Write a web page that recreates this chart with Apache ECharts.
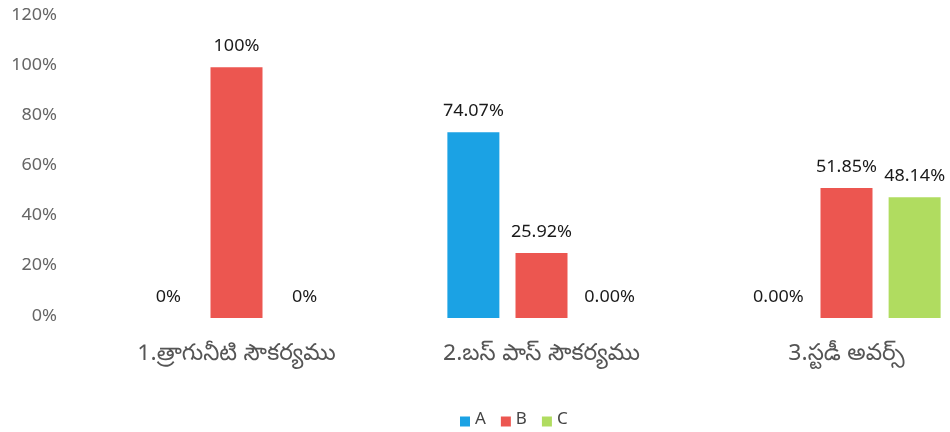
<!DOCTYPE html>
<html>
<head>
<meta charset="utf-8">
<title>chart</title>
<script src="https://cdn.jsdelivr.net/npm/echarts@6/dist/echarts.min.js"></script>
<style>
  html, body { margin: 0; padding: 0; background: #fff; }
  #chart { width: 950px; height: 432px; }
</style>
</head>
<body>
<div id="chart"></div>
<script>
// data
var categories = ['1.త్రాగునీటి సౌకర్యము', '2.బస్ పాస్ సౌకర్యము', '3.స్టడీ అవర్స్'];
var seriesNames = ['A', 'B', 'C'];
var valuesA = [0, 74.07, 0];
var valuesB = [100, 25.92, 51.85];
var valuesC = [0, 0, 48.14];
var labelsA = ['0%', '74.07%', '0.00%'];
var labelsB = ['100%', '25.92%', '51.85%'];
var labelsC = ['0%', '0.00%', '48.14%'];
var yTicks = [0, 20, 40, 60, 80, 100, 120];

var colors = ['#1ba2e4', '#ec5650', '#b0dc60'];
var fontList = '"Noto Sans Telugu", "Open Sans", "Noto Sans", sans-serif';

function makeSeries(i, values, labels) {
  return {
    name: seriesNames[i],
    type: 'bar',
    barWidth: 52,
    barGap: '31%',
    data: values,
    itemStyle: { color: colors[i] },
    label: {
      show: true,
      position: 'top',
      distance: 10,
      fontSize: 18,
      color: '#1a1a1a',
      fontFamily: fontList,
      formatter: function (p) { return labels[p.dataIndex]; }
    }
  };
}

var chart = echarts.init(document.getElementById('chart'));
chart.setOption({
  animation: false,
  textStyle: { fontFamily: fontList },
  grid: { left: 84, top: 17, bottom: 114, width: 915, outerBoundsMode: 'none', containLabel: false },
  legend: {
    data: seriesNames,
    left: 455,
    top: 408,
    icon: 'rect',
    itemWidth: 10,
    itemHeight: 10,
    itemGap: 15,
    textStyle: { fontSize: 17, color: '#444' }
  },
  xAxis: {
    type: 'category',
    data: categories,
    axisLine: { show: false },
    axisTick: { show: false },
    axisLabel: { fontSize: 23, color: '#555', margin: 27 }
  },
  yAxis: {
    type: 'value',
    min: yTicks[0],
    max: yTicks[yTicks.length - 1],
    interval: yTicks[1] - yTicks[0],
    splitLine: { show: false },
    axisLine: { show: false },
    axisTick: { show: false },
    axisLabel: { fontSize: 18, color: '#666', margin: 27, formatter: '{value}%' }
  },
  series: [
    makeSeries(0, valuesA, labelsA),
    makeSeries(1, valuesB, labelsB),
    makeSeries(2, valuesC, labelsC)
  ]
});
</script>
</body>
</html>
